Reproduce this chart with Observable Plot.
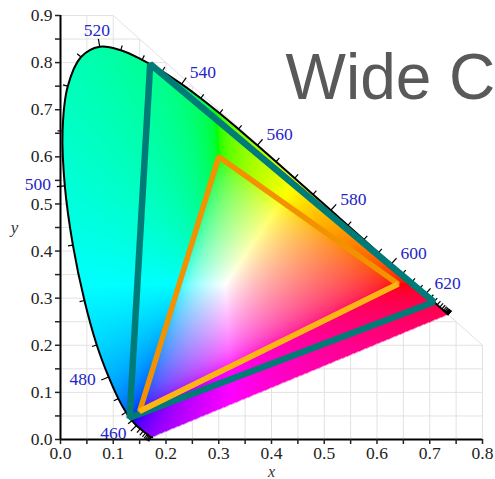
<!DOCTYPE html>
<html><head><meta charset="utf-8">
<script src="https://cdn.jsdelivr.net/npm/d3@7"></script>
<script src="https://cdn.jsdelivr.net/npm/@observablehq/plot@0.6"></script>
<style>html,body{margin:0;padding:0;background:#fff;overflow:hidden}</style>
</head><body><div id="chart"></div>
<script>
// CIE 1931 spectral locus (5 nm steps)
const wavelengths = [380,385,390,395,400,405,410,415,420,425,430,435,440,445,450,455,460,465,470,475,480,485,490,495,500,505,510,515,520,525,530,535,540,545,550,555,560,565,570,575,580,585,590,595,600,605,610,615,620,625,630,635,640,645,650,655,660,665,670,675,680,685,690,695,700];
const locusX = [0.1741,0.1740,0.1738,0.1736,0.1733,0.1730,0.1726,0.1721,0.1714,0.1703,0.1689,0.1669,0.1644,0.1611,0.1566,0.1510,0.1440,0.1355,0.1241,0.1096,0.0913,0.0687,0.0454,0.0235,0.0082,0.0039,0.0139,0.0389,0.0743,0.1142,0.1547,0.1929,0.2296,0.2658,0.3016,0.3373,0.3731,0.4087,0.4441,0.4788,0.5125,0.5448,0.5752,0.6029,0.6270,0.6482,0.6658,0.6801,0.6915,0.7006,0.7079,0.7140,0.7190,0.7230,0.7260,0.7283,0.7300,0.7311,0.7320,0.7327,0.7334,0.7340,0.7344,0.7346,0.7347];
const locusY = [0.0050,0.0050,0.0049,0.0049,0.0048,0.0048,0.0048,0.0048,0.0051,0.0058,0.0069,0.0086,0.0109,0.0138,0.0177,0.0227,0.0297,0.0399,0.0578,0.0868,0.1327,0.2007,0.2950,0.4127,0.5384,0.6548,0.7502,0.8120,0.8338,0.8262,0.8059,0.7816,0.7543,0.7243,0.6923,0.6589,0.6245,0.5896,0.5547,0.5202,0.4866,0.4544,0.4242,0.3965,0.3725,0.3514,0.3340,0.3197,0.3083,0.2993,0.2920,0.2859,0.2809,0.2770,0.2740,0.2717,0.2700,0.2689,0.2680,0.2673,0.2666,0.2660,0.2656,0.2654,0.2653];
const labelWavelengths = [460,480,500,520,540,560,580,600,620];
const tickMinWavelength = 420;

// Gamut triangles (R, G, B)
const wideX = [0.708,0.170,0.131];
const wideY = [0.292,0.797,0.046];
const srgbX = [0.64,0.30,0.15];
const srgbY = [0.33,0.60,0.06];

const xTicks = [0,0.05,0.1,0.15,0.2,0.25,0.3,0.35,0.4,0.45,0.5,0.55,0.6,0.65,0.7,0.75,0.8];
const yTicks = [0,0.05,0.1,0.15,0.2,0.25,0.3,0.35,0.4,0.45,0.5,0.55,0.6,0.65,0.7,0.75,0.8,0.85,0.9];
const titleText = "Wide C";

const W = 495, H = 479, ML = 60, MR = 13, MT = 15, MB = 40;
const kx = (W - ML - MR) / 0.8, ky = (H - MT - MB) / 0.9;

const locus = wavelengths.map((w, i) => ({w, x: locusX[i], y: locusY[i]}));

// smooth boundary (same curve as the outline) for the inside test
const boundary = new Path2D(d3.line().x(d => d.x * kx).y(d => -d.y * ky).curve(d3.curveCatmullRom)(locus) + "Z");
const hitCtx = document.createElement("canvas").getContext("2d");
const inside = (x, y) => hitCtx.isPointInPath(boundary, x * kx, -y * ky);

function normalAt(i) {
  let a = Math.max(0, i - 1), b = Math.min(locus.length - 1, i + 1);
  let tx, ty, len;
  for (;;) {
    tx = (locus[b].x - locus[a].x) * kx;
    ty = -(locus[b].y - locus[a].y) * ky;
    len = Math.hypot(tx, ty);
    if (len > 1.5 || (a === 0 && b === locus.length - 1)) break;
    a = Math.max(0, a - 1); b = Math.min(locus.length - 1, b + 1);
  }
  return [ty / len, -tx / len]; // outward normal in pixel space
}

const ticks = [];
locus.forEach((d, i) => {
  if (d.w < tickMinWavelength) return;
  const [nx, ny] = normalAt(i);
  const L = labelWavelengths.includes(d.w) ? 8 : 5;
  ticks.push({x1: d.x, y1: d.y, x2: d.x + nx * L / kx, y2: d.y - ny * L / ky});
});

const labels = labelWavelengths.map(w => {
  const i = wavelengths.indexOf(w);
  const d = locus[i];
  const [nx, ny] = normalAt(i);
  const off = w === 520 ? 17 : 14;
  const anchor = nx < -0.5 ? "end" : nx > 0.3 ? "start" : "middle";
  return {w, anchor, x: d.x + nx * off / kx, y: d.y - ny * off / ky};
});

function xyColor(x, y) {
  const X = x / y, Y = 1, Z = (1 - x - y) / y;
  let r = 3.2406 * X - 1.5372 * Y - 0.4986 * Z;
  let g = -0.9689 * X + 1.8758 * Y + 0.0415 * Z;
  let b = 0.0557 * X - 0.2040 * Y + 1.0570 * Z;
  const m = Math.min(r, g, b);
  if (m < 0) { r -= m; g -= m; b -= m; }
  const M = Math.max(r, g, b);
  r /= M; g /= M; b /= M;
  const gm = v => v <= 0.0031308 ? 12.92 * v : 1.055 * Math.pow(v, 1 / 2.4) - 0.055;
  return `rgb(${Math.round(gm(r) * 255)},${Math.round(gm(g) * 255)},${Math.round(gm(b) * 255)})`;
}

const gridV = xTicks.filter(v => v > 0).map(v => ({x1: v, y1: 0, x2: v, y2: Math.min(0.9, 1 - v)}));
const gridH = yTicks.filter(v => v > 0).map(v => ({x1: 0, y1: v, x2: Math.min(0.8, 1 - v), y2: v}));
const diag = [{x1: 0.1, y1: 0.9, x2: 0.8, y2: 0.2}];

const widePts = wideX.map((x, i) => ({x, y: wideY[i]}));
const srgbPts = srgbX.map((x, i) => ({x, y: srgbY[i]}));

const fmt = d => Math.abs(d * 10 - Math.round(d * 10)) < 1e-6 ? d.toFixed(1) : "";
const serif = "Liberation Serif, Times New Roman, serif";

const plot = Plot.plot({
  width: W, height: H,
  marginLeft: ML, marginRight: MR, marginTop: MT, marginBottom: MB,
  x: {domain: [0, 0.8]},
  y: {domain: [0, 0.9]},
  color: {type: "identity"},
  style: {background: "white", overflow: "hidden"},
  marks: [
    Plot.link([...gridV, ...gridH, ...diag], {x1: "x1", y1: "y1", x2: "x2", y2: "y2", stroke: "#e2e2e2", strokeWidth: 1}),
    Plot.raster({x1: 0, x2: 0.8, y1: 0, y2: 0.9, pixelSize: 1,
      fill: (x, y) => (y > 0.001 && inside(x, y)) ? xyColor(x, y) : null}),
    Plot.line(locus, {x: "x", y: "y", stroke: "black", strokeWidth: 2, curve: "catmull-rom"}),
    Plot.link(ticks, {x1: "x1", y1: "y1", x2: "x2", y2: "y2", stroke: "black", strokeWidth: 1.2}),
    Plot.line(widePts, {x: "x", y: "y", curve: "linear-closed", stroke: "#007c78", strokeWidth: 6.5, strokeLinejoin: "miter"}),
    Plot.line(srgbPts, {x: "x", y: "y", curve: "linear-closed", stroke: "#f39200", strokeWidth: 5.5, strokeLinejoin: "miter"}),
    Plot.line([srgbPts[0], srgbPts[2]], {x: "x", y: "y", stroke: "#fdb515", strokeWidth: 5.5, strokeLinecap: "butt"}),
    ...["start", "middle", "end"].map(a => Plot.text(labels.filter(d => d.anchor === a), {
      x: "x", y: "y", text: d => String(d.w), textAnchor: a, lineAnchor: "middle", dy: a === "end" ? -2.5 : 0,
      fill: "#2424c8", fontSize: 17.5, fontFamily: serif})),
    Plot.ruleY([0], {stroke: "black", strokeWidth: 2}),
    Plot.ruleX([0], {stroke: "black", strokeWidth: 2}),
    Plot.axisX({ticks: xTicks, tickFormat: fmt, tickSize: 5, tickPadding: 2, strokeWidth: 1.5,
      fontSize: 17.5, fontFamily: serif, color: "#222", label: null}),
    Plot.axisY({ticks: yTicks, tickFormat: fmt, tickSize: 5, tickPadding: 3, strokeWidth: 1.5,
      fontSize: 17.5, fontFamily: serif, color: "#222", label: null}),
    Plot.text(["x"], {x: 0.4, y: 0, dy: 32, text: d => d, fontSize: 16, fontStyle: "italic", fontFamily: serif, fill: "#333"}),
    Plot.text(["y"], {x: 0, y: 0.45, dx: -46, text: d => d, fontSize: 17, fontStyle: "italic", fontFamily: serif, fill: "#333"}),
    Plot.text([titleText], {frameAnchor: "top-left", dx: 225, dy: 38, text: d => d, textAnchor: "start", lineAnchor: "top",
      fontSize: 64, fontFamily: "Liberation Sans, Arial, sans-serif", fill: "#595959"})
  ]
});
document.getElementById("chart").appendChild(plot);
</script>
</body></html>
